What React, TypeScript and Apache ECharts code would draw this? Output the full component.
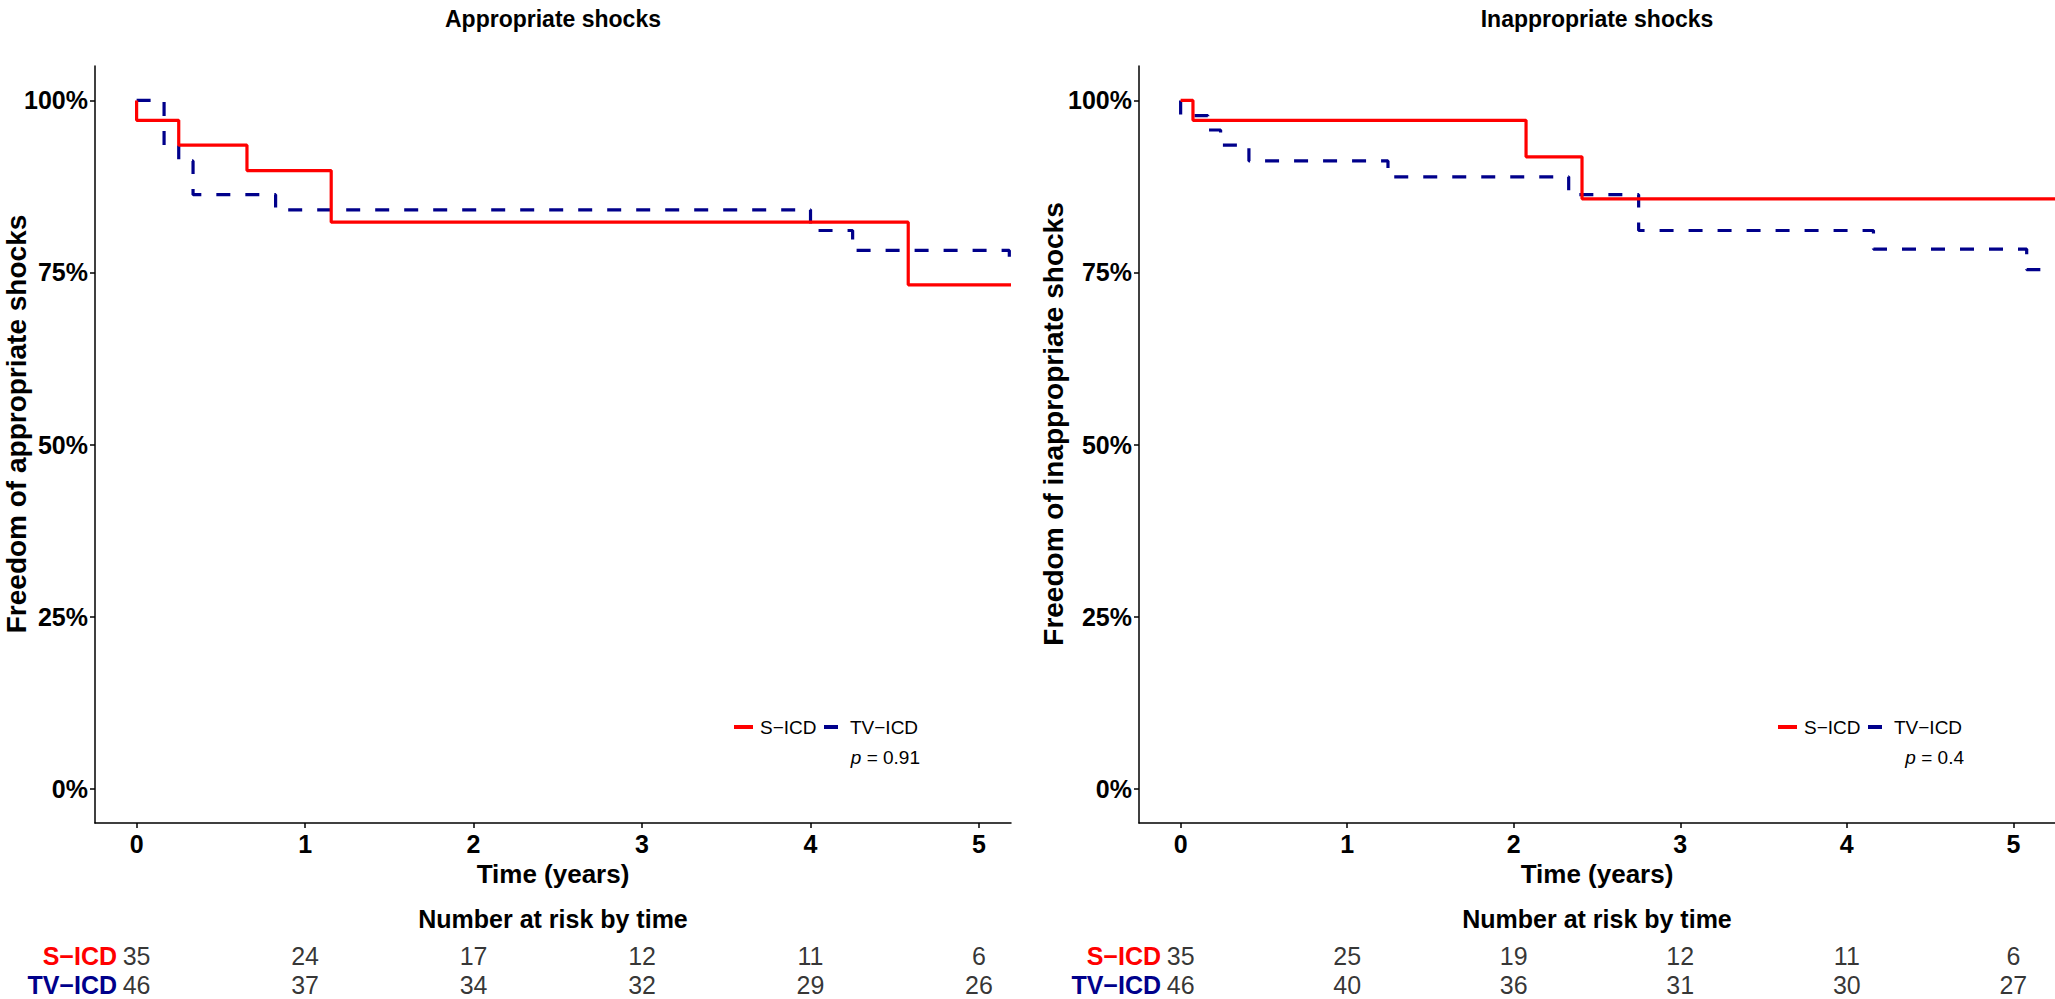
import React, { useEffect, useRef } from "react";
import * as echarts from "echarts";

// ---------- data ----------
const TIME_TICKS = [0, 1, 2, 3, 4, 5];
const PCT_TICKS = [0, 0.25, 0.5, 0.75, 1];
const GROUPS = ["S−ICD", "TV−ICD"];

// Kaplan–Meier estimates [time (years), survival] — appropriate shocks
const APPROP_SICD = [
  [0, 1], [0, 0.971], [0.25, 0.935], [0.655, 0.898], [1.155, 0.823], [4.58, 0.732], [5.19, 0.732],
];
const APPROP_TVICD = [
  [0, 1], [0.163, 0.935], [0.25, 0.912], [0.335, 0.863], [0.825, 0.841], [4.0, 0.811],
  [4.25, 0.782], [5.18, 0.758], [5.19, 0.758],
];
// inappropriate shocks
const INAPPROP_SICD = [
  [0, 1], [0.074, 0.971], [2.074, 0.918], [2.41, 0.857], [5.25, 0.857],
];
const INAPPROP_TVICD = [
  [0, 1], [0, 0.978], [0.163, 0.957], [0.24, 0.935], [0.41, 0.912], [1.245, 0.889],
  [2.33, 0.863], [2.75, 0.811], [4.16, 0.784], [5.08, 0.754], [5.25, 0.754],
];

// numbers at risk at TIME_TICKS
const RISK_APPROP_SICD = [35, 24, 17, 12, 11, 6];
const RISK_APPROP_TVICD = [46, 37, 34, 32, 29, 26];
const RISK_INAPPROP_SICD = [35, 25, 19, 12, 11, 6];
const RISK_INAPPROP_TVICD = [46, 40, 36, 31, 30, 27];

const PANEL_TITLES = ["Appropriate shocks", "Inappropriate shocks"];
const Y_TITLES = ["Freedom of appropriate shocks", "Freedom of inappropriate shocks"];
const P_VALUES = ["0.91", "0.4"];
const X_MIN = [-0.247, -0.25];
const X_MAX = [5.19, 5.25];

// ---------- style ----------
const FONT = "'Liberation Sans', Arial, Helvetica, sans-serif";
const RED = "#FF0000";
const BLUE = "#00008B";
const PANEL_LEFT = [95, 1139];
const Y_TITLE_X = [16, 1053];
const PANEL_W = 916;
const PLOT_TOP = 66;
const PLOT_H = 757;
const RISK_TOP = 941;
const RISK_H = 58;

export default function App() {
  const ref = useRef<HTMLDivElement>(null);

  useEffect(() => {
    if (!ref.current) return;
    const chart = echarts.init(ref.current, undefined, { renderer: "svg" });

    const grids: any[] = [];
    const xAxes: any[] = [];
    const yAxes: any[] = [];
    const series: any[] = [];
    const titles: any[] = [];
    const graphics: any[] = [];

    const kmData = [
      [APPROP_SICD, APPROP_TVICD],
      [INAPPROP_SICD, INAPPROP_TVICD],
    ];
    const riskData = [
      [RISK_APPROP_SICD, RISK_APPROP_TVICD],
      [RISK_INAPPROP_SICD, RISK_INAPPROP_TVICD],
    ];

    for (let p = 0; p < 2; p++) {
      const left = PANEL_LEFT[p];
      const cx = left + PANEL_W / 2;
      grids.push({ left, top: PLOT_TOP, width: PANEL_W, height: PLOT_H, containLabel: false, outerBoundsMode: "none" });
      grids.push({ left, top: RISK_TOP, width: PANEL_W, height: RISK_H, containLabel: false, outerBoundsMode: "none" });
      const gPlot = p * 2;
      const gRisk = p * 2 + 1;

      xAxes.push({
        type: "value",
        gridIndex: gPlot,
        min: X_MIN[p],
        max: X_MAX[p],
        splitLine: { show: false },
        axisLine: { show: true, onZero: false, lineStyle: { color: "#000", width: 1.5 } },
        axisTick: { show: true, length: 5, lineStyle: { color: "#000", width: 1.5 }, customValues: TIME_TICKS },
        axisLabel: {
          customValues: TIME_TICKS,
          formatter: (v: number) => String(v),
          color: "#000",
          fontSize: 25,
          fontWeight: "bold",
          fontFamily: FONT,
          margin: 8,
        },
        name: "Time (years)",
        nameLocation: "middle",
        nameGap: 36,
        nameTextStyle: { color: "#000", fontSize: 26, fontWeight: "bold", fontFamily: FONT },
      });
      yAxes.push({
        type: "value",
        gridIndex: gPlot,
        min: -0.05,
        max: 1.05,
        splitLine: { show: false },
        axisLine: { show: true, onZero: false, lineStyle: { color: "#000", width: 1.5 } },
        axisTick: { show: true, length: 5, lineStyle: { color: "#000", width: 1.5 }, customValues: PCT_TICKS },
        axisLabel: {
          customValues: PCT_TICKS,
          formatter: (v: number) => Math.round(v * 100) + "%",
          color: "#000",
          fontSize: 25,
          fontWeight: "bold",
          fontFamily: FONT,
          margin: 7,
        },
      });

      xAxes.push({
        type: "value",
        gridIndex: gRisk,
        min: X_MIN[p],
        max: X_MAX[p],
        show: false,
        splitLine: { show: false },
      });
      yAxes.push({
        type: "category",
        gridIndex: gRisk,
        data: GROUPS,
        inverse: true,
        axisLine: { show: false },
        axisTick: { show: false },
        splitLine: { show: false },
        axisLabel: {
          margin: -22,
          formatter: (v: string) => (v === GROUPS[0] ? "{s|" + v + "}" : "{t|" + v + "}"),
          rich: {
            s: { color: RED, fontSize: 25, fontWeight: "bold", fontFamily: FONT },
            t: { color: BLUE, fontSize: 25, fontWeight: "bold", fontFamily: FONT },
          },
        },
      });

      const [sData, tData] = kmData[p];
      series.push({
        name: GROUPS[0],
        type: "line",
        step: "end",
        xAxisIndex: gPlot,
        yAxisIndex: gPlot,
        data: sData,
        symbol: "none",
        showSymbol: false,
        lineStyle: { color: RED, width: 3.2, type: "solid" },
        z: 3,
      });
      series.push({
        name: GROUPS[1],
        type: "line",
        step: "end",
        xAxisIndex: gPlot,
        yAxisIndex: gPlot,
        data: tData,
        symbol: "none",
        showSymbol: false,
        lineStyle: { color: BLUE, width: 3.2, type: [14, 15] },
        z: 2,
      });

      const [rS, rT] = riskData[p];
      GROUPS.forEach((g, gi) => {
        const arr = gi === 0 ? rS : rT;
        series.push({
          name: "risk-" + g,
          type: "scatter",
          xAxisIndex: gRisk,
          yAxisIndex: gRisk,
          data: TIME_TICKS.map((t, i) => [t, g, arr[i]]),
          symbolSize: 1,
          itemStyle: { color: "rgba(0,0,0,0)" },
          label: {
            show: true,
            position: "inside",
            formatter: (prm: any) => String(prm.value[2]),
            color: "#000",
            fontSize: 25,
            fontFamily: FONT,
          },
          silent: true,
        });
      });

      titles.push({
        text: PANEL_TITLES[p],
        left: cx,
        top: 7,
        textAlign: "center",
        padding: 0,
        textStyle: { color: "#000", fontSize: 23, fontWeight: "bold", fontFamily: FONT },
      });
      titles.push({
        text: "Number at risk by time",
        left: cx,
        top: 906,
        textAlign: "center",
        padding: 0,
        textStyle: { color: "#000", fontSize: 25, fontWeight: "bold", fontFamily: FONT },
      });

      const off = left - PANEL_LEFT[0];
      graphics.push(
        {
          type: "text",
          x: Y_TITLE_X[p],
          y: 424,
          rotation: Math.PI / 2,
          style: {
            text: Y_TITLES[p],
            fill: "#000",
            fontSize: 28,
            fontWeight: "bold",
            fontFamily: FONT,
            align: "center",
            verticalAlign: "middle",
          },
        },
        { type: "rect", shape: { x: 734 + off, y: 725, width: 19, height: 4 }, style: { fill: RED } },
        {
          type: "text",
          x: 760 + off,
          y: 727,
          style: { text: GROUPS[0], fill: "#000", fontSize: 19, fontFamily: FONT, verticalAlign: "middle", align: "left" },
        },
        { type: "rect", shape: { x: 824 + off, y: 725, width: 14, height: 4 }, style: { fill: BLUE } },
        {
          type: "text",
          x: 850 + off,
          y: 727,
          style: { text: GROUPS[1], fill: "#000", fontSize: 19, fontFamily: FONT, verticalAlign: "middle", align: "left" },
        },
        {
          type: "text",
          x: 920 + off,
          y: 757,
          style: {
            text: "{i|p} = " + P_VALUES[p],
            fill: "#000",
            fontSize: 19,
            fontFamily: FONT,
            verticalAlign: "middle",
            align: "right",
            rich: { i: { fontStyle: "italic", fontSize: 19, fontFamily: FONT, fill: "#000" } },
          },
        }
      );
    }

    chart.setOption({
      animation: false,
      backgroundColor: "#fff",
      title: titles,
      grid: grids,
      xAxis: xAxes,
      yAxis: yAxes,
      series,
      graphic: graphics,
    });

    return () => chart.dispose();
  }, []);

  return (
    <div
      ref={ref}
      style={{ position: "fixed", left: 0, top: 0, width: 2055, height: 999, background: "#fff" }}
    />
  );
}
